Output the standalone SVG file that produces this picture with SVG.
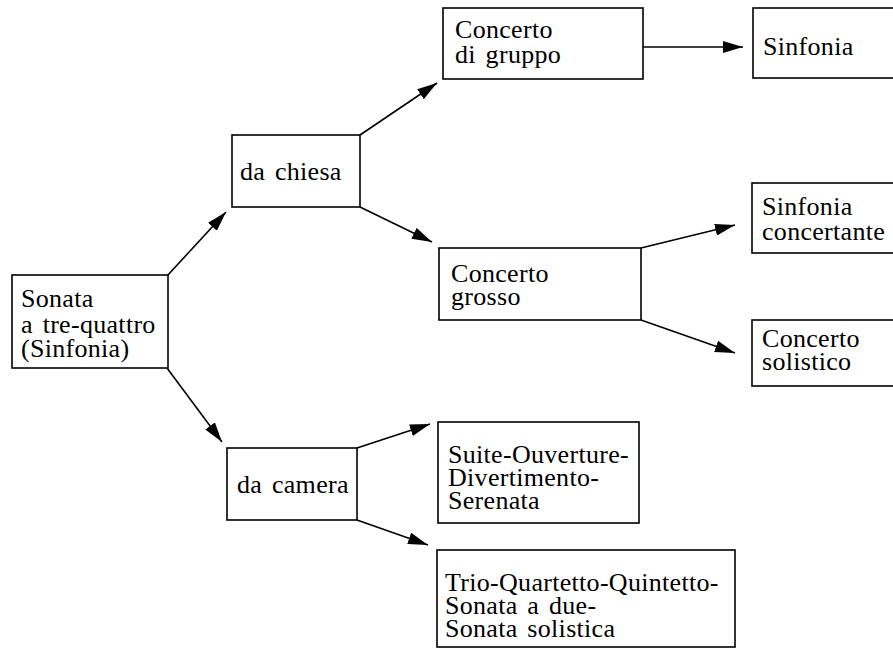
<svg xmlns="http://www.w3.org/2000/svg" width="893" height="650" viewBox="0 0 893 650">
<style>
.box{fill:#fff;stroke:#000;stroke-width:1.6}
.t{font-family:"Liberation Serif","Times New Roman",serif;font-size:26px;letter-spacing:0.3px;word-spacing:3px;fill:#000}
.c{stroke:#000;stroke-width:1.6;fill:none;marker-end:url(#ah)}
</style>
<defs>
<marker id="ah" markerUnits="userSpaceOnUse" viewBox="0 0 20 12" refX="20" refY="6" markerWidth="20" markerHeight="12" orient="auto">
<path d="M0,0 L20,6 L0,12 z" fill="#000"/>
</marker>
</defs>
<rect width="893" height="650" fill="#fff"/>
<g id="connectors">
<line class="c" x1="167" y1="276" x2="226" y2="212"/>
<line class="c" x1="167" y1="368" x2="222" y2="442"/>
<line class="c" x1="360" y1="135" x2="437" y2="83"/>
<line class="c" x1="360" y1="207" x2="432" y2="242"/>
<line class="c" x1="643" y1="47" x2="743" y2="47"/>
<line class="c" x1="641" y1="248" x2="735" y2="225"/>
<line class="c" x1="641" y1="320" x2="735" y2="353"/>
<line class="c" x1="357" y1="448" x2="430" y2="424"/>
<line class="c" x1="357" y1="520" x2="428" y2="545"/>
</g>
<g id="sonata">
<rect class="box" x="12" y="275" width="156" height="93"/>
<text class="t" x="21" y="307">Sonata</text>
<text class="t" x="21" y="333">a tre-quattro</text>
<text class="t" x="21" y="357">(Sinfonia)</text>
</g>
<g id="da-chiesa">
<rect class="box" x="232" y="135" width="128" height="72"/>
<text class="t" x="240" y="180">da chiesa</text>
</g>
<g id="da-camera">
<rect class="box" x="227" y="448" width="130" height="72"/>
<text class="t" x="237" y="493">da camera</text>
</g>
<g id="concerto-di-gruppo">
<rect class="box" x="443" y="8" width="200" height="71"/>
<text class="t" x="455" y="38">Concerto</text>
<text class="t" x="455" y="63">di gruppo</text>
</g>
<g id="sinfonia">
<rect class="box" x="753" y="8" width="160" height="70"/>
<text class="t" x="763" y="55">Sinfonia</text>
</g>
<g id="concerto-grosso">
<rect class="box" x="439" y="248" width="202" height="72"/>
<text class="t" x="451" y="282">Concerto</text>
<text class="t" x="451" y="305">grosso</text>
</g>
<g id="sinfonia-concertante">
<rect class="box" x="752" y="183" width="160" height="70"/>
<text class="t" x="762" y="215">Sinfonia</text>
<text class="t" x="762" y="240">concertante</text>
</g>
<g id="concerto-solistico">
<rect class="box" x="752" y="320" width="160" height="66"/>
<text class="t" x="762" y="347">Concerto</text>
<text class="t" x="762" y="370">solistico</text>
</g>
<g id="suite">
<rect class="box" x="438" y="422" width="201" height="101"/>
<text class="t" x="448" y="463">Suite-Ouverture-</text>
<text class="t" x="448" y="486">Divertimento-</text>
<text class="t" x="448" y="509">Serenata</text>
</g>
<g id="trio">
<rect class="box" x="437" y="550" width="298" height="97"/>
<text class="t" x="445" y="591">Trio-Quartetto-Quintetto-</text>
<text class="t" x="445" y="614">Sonata a due-</text>
<text class="t" x="445" y="637">Sonata solistica</text>
</g>
</svg>
